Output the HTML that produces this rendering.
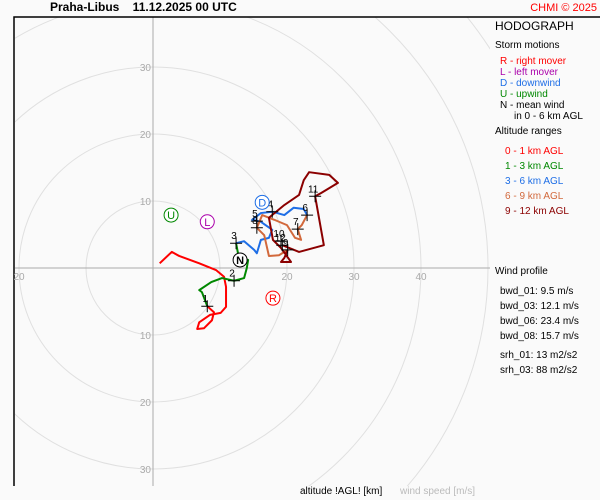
<!DOCTYPE html>
<html><head><meta charset="utf-8">
<style>
html,body{margin:0;background:#fafafa;overflow:hidden;width:600px;height:500px}
#c{position:relative;width:600px;height:500px;background:#fafafa;font-family:"Liberation Sans",sans-serif;overflow:hidden}
.t{position:absolute;white-space:nowrap;font-size:11px;line-height:1.1}
</style></head><body>
<div id="c">
<div class="t" style="left:50px;top:1px;font-size:12px;font-weight:bold;color:#000">Praha-Libus&nbsp;&nbsp;&nbsp;&nbsp;11.12.2025 00 UTC</div>
<div class="t" style="right:3px;top:2px;font-size:11px;color:#f00">CHMI © 2025</div>
<svg id="s" width="600" height="500" style="position:absolute;left:0;top:0"></svg>
<div>
<div class="t" style="left:495px;top:20px;font-size:12px">HODOGRAPH</div>
<div class="t" style="left:495px;top:40px;font-size:10px">Storm motions</div>
<div class="t" style="left:500px;top:56px;font-size:10px;color:#f00">R - right mover</div>
<div class="t" style="left:500px;top:67px;font-size:10px;color:#a0a">L - left mover</div>
<div class="t" style="left:500px;top:78px;font-size:10px;color:#1e6ee6">D - downwind</div>
<div class="t" style="left:500px;top:89px;font-size:10px;color:#080">U - upwind</div>
<div class="t" style="left:500px;top:100px;font-size:10px">N - mean wind</div>
<div class="t" style="left:514px;top:111px;font-size:10px">in 0 - 6 km AGL</div>
<div class="t" style="left:495px;top:126px;font-size:10px">Altitude ranges</div>
<div class="t" style="left:505px;top:146px;font-size:10px;color:#f00">0 - 1 km AGL</div>
<div class="t" style="left:505px;top:161px;font-size:10px;color:#080">1 - 3 km AGL</div>
<div class="t" style="left:505px;top:176px;font-size:10px;color:#1e6ee6">3 - 6 km AGL</div>
<div class="t" style="left:505px;top:191px;font-size:10px;color:#d2693c">6 - 9 km AGL</div>
<div class="t" style="left:505px;top:206px;font-size:10px;color:#8b0000">9 - 12 km AGL</div>
<div class="t" style="left:495px;top:266px;font-size:10px">Wind profile</div>
<div class="t" style="left:500px;top:286px;font-size:10px">bwd_01: 9.5 m/s</div>
<div class="t" style="left:500px;top:301px;font-size:10px">bwd_03: 12.1 m/s</div>
<div class="t" style="left:500px;top:316px;font-size:10px">bwd_06: 23.4 m/s</div>
<div class="t" style="left:500px;top:331px;font-size:10px">bwd_08: 15.7 m/s</div>
<div class="t" style="left:500px;top:350px;font-size:10px">srh_01: 13 m2/s2</div>
<div class="t" style="left:500px;top:365px;font-size:10px">srh_03: 88 m2/s2</div>
</div>
<div class="t" style="left:300px;top:486px;font-size:10px">altitude !AGL! [km]</div>
<div class="t" style="left:400px;top:486px;font-size:10px;color:#bbb">wind speed [m/s]</div>
</div>
<script>
const ringValues=[10,20,30,40,50,60,70,80,90];
const xTickLabels=[-20,20,30,40];
const yTickLabels=[30,20,10,-10,-20,-30];
const seg01=[[1.0,0.7],[2.8,2.4],[3.9,1.8],[6.9,0.7],[9.4,-0.3],[10.6,-1.3],[10.9,-2.8],[10.9,-5.8],[10.1,-6.7],[8.5,-7.0],[6.9,-8.1],[6.6,-9.1],[7.6,-9.0],[8.8,-7.8],[9.1,-6.6],[8.1,-5.7]];
const seg13=[[8.1,-5.7],[7.3,-3.6],[6.9,-3.3],[8.7,-2.1],[10.3,-1.5],[12.1,-1.9],[13.6,-1.5],[14.0,0],[14.2,1.2],[12.8,1.6],[12.4,3.7]];
const seg36=[[12.4,3.7],[13.6,4.0],[15.1,2.7],[15.5,2.2],[16.1,4.2],[17.3,4.5],[17.8,5.7],[16.1,6.9],[14.8,7.2],[16.1,8.2],[17.8,8.4],[19.6,7.9],[21.0,9.0],[22.5,8.8],[23.0,7.9]];
const seg69=[[23.0,7.9],[22.2,6.4],[21.6,5.8],[22.1,4.2],[21.2,4.5],[20,6.4],[18.1,7.2],[16.3,7.9],[15.5,6.0],[16.6,4.9],[17.3,1.8],[18.8,1.9],[20.1,2.7]];
const seg912=[[20.1,2.7],[19.6,1.5],[19.1,0.9],[20.6,0.9],[19.1,3.0],[17.9,4.2],[17.3,7.5],[19.6,9.4],[21.8,10.9],[22.5,13.1],[23.3,14.3],[26.3,13.9],[27.6,12.7],[25.1,11.2],[24.2,10.7],[25.5,3.4],[21.8,2.4],[19.3,3.4]];
const kmLabels=['1','2','3','4','5','6','7','8','9','10','11','12'];
const kmPoints=[[8.1,-5.7],[12.1,-1.9],[12.4,3.7],[17.8,8.4],[15.5,7.0],[23.0,7.9],[21.6,5.8],[15.5,6.0],[20.1,2.7],[19.1,4.0],[24.2,10.7],[19.3,3.4]];
const stormLabels=['R','L','D','U','N'];
const stormPoints=[[17.9,-4.5],[8.1,6.9],[16.3,9.8],[2.7,7.9],[13.0,1.2]];
const stormColors=['#f00','#a0a','#1e6ee6','#080','#000'];
const OX=153,OY=268,K=6.7;
const X=u=>OX+u*K, Y=v=>OY-v*K;
const s=document.getElementById('s');const NS='http://www.w3.org/2000/svg';
function mk(t,a,p){const e=document.createElementNS(NS,t);for(const k in a)e.setAttribute(k,a[k]);(p||s).appendChild(e);return e;}
const defs=mk('defs',{});const cp=mk('clipPath',{id:'cl'},defs);mk('rect',{x:15,y:17,width:475,height:469},cp);
const g=mk('g',{'clip-path':'url(#cl)'});
ringValues.forEach(r=>{const c=mk('circle',{cx:OX,cy:OY,r:r*K,fill:'none',stroke:'#e0e0e0','stroke-width':1},g);

});
const ax1=mk('line',{x1:OX,y1:17,x2:OX,y2:486,stroke:'#aaa'});


const ax2=mk('line',{x1:15,y1:OY,x2:490,y2:OY,stroke:'#aaa'});


const fr=mk('path',{d:'M14,486V17H600',fill:'none',stroke:'#000','stroke-width':1.5});


xTickLabels.forEach(v=>{const t=mk('text',{x:X(v),y:OY+12,'font-size':10,fill:'#aaa','text-anchor':'middle','font-family':'Liberation Sans'});t.textContent=Math.abs(v);

});
yTickLabels.forEach(v=>{const t=mk('text',{x:OX-2,y:Y(v)+4,'font-size':10,fill:'#aaa','text-anchor':'end','font-family':'Liberation Sans'});t.textContent=Math.abs(v);

});
function line(d,col,name){const p=mk('polyline',{points:d.map(q=>X(q[0])+','+Y(q[1])).join(' '),fill:'none',stroke:col,'stroke-width':2,'stroke-linejoin':'round'});

}
line(seg01,'#f00','hodo-0-1km');line(seg13,'#080','hodo-1-3km');line(seg36,'#1e6ee6','hodo-3-6km');line(seg69,'#d2693c','hodo-6-9km');line(seg912,'#8b0000','hodo-9-12km');
kmPoints.forEach((q,i)=>{const x=X(q[0]),y=Y(q[1]);
const m=mk('path',{d:`M${x-6},${y}H${x+6}M${x},${y-6}V${y+6}`,stroke:'#000','stroke-width':1});


const t=mk('text',{x:x-2,y:y-4,'font-size':10,fill:'#000','text-anchor':'middle','font-family':'Liberation Sans'});t.textContent=kmLabels[i];

});
stormPoints.forEach((q,i)=>{const x=X(q[0]),y=Y(q[1]);
const c=mk('circle',{cx:x,cy:y,r:7,fill:'#fff',stroke:stormColors[i],'stroke-width':1});


const t=mk('text',{x:x,y:y+4,'font-size':11,fill:stormColors[i],'text-anchor':'middle','font-family':'Liberation Sans','font-weight':i==4?'bold':'normal'});t.textContent=stormLabels[i];

});
</script>
</body></html>
